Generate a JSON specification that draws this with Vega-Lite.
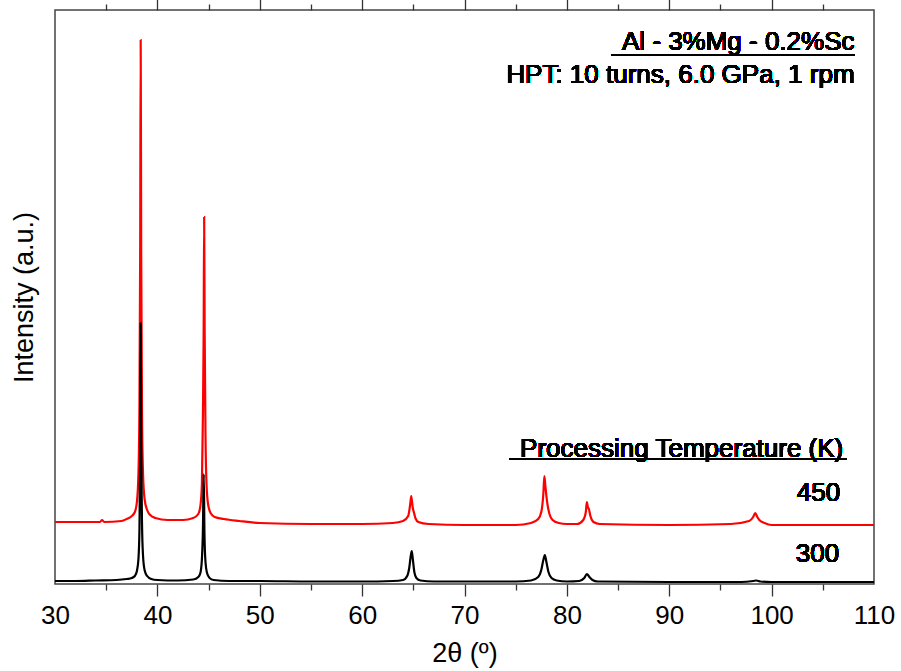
{
  "$schema": "https://vega.github.io/schema/vega-lite/v6.json",
  "width": 819,
  "height": 574,
  "autosize": {"type": "none"},
  "padding": {"left": 55, "top": 10, "right": 27, "bottom": 87},
  "background": "white",
  "config": {
    "font": "Liberation Sans",
    "view": {"stroke": "#444", "strokeWidth": 1.5},
    "axis": {"labelFont": "Liberation Sans", "titleFont": "Liberation Sans", "labelColor": "#000", "titleColor": "#000", "titleFontWeight": "normal", "grid": false}
  },
  "data": {"values": [
    {"t": 30, "i": 62, "s": "450"}, {"t": 33, "i": 62, "s": "450"}, {"t": 34.4, "i": 62, "s": "450"}, {"t": 34.6, "i": 64, "s": "450"}, {"t": 34.8, "i": 62, "s": "450"}, {"t": 36.5, "i": 63, "s": "450"}, {"t": 37.0, "i": 65, "s": "450"}, {"t": 37.5, "i": 68, "s": "450"}, {"t": 37.8, "i": 72, "s": "450"}, {"t": 38.0, "i": 82, "s": "450"}, {"t": 38.15, "i": 110, "s": "450"}, {"t": 38.25, "i": 180, "s": "450"}, {"t": 38.32, "i": 330, "s": "450"}, {"t": 38.37, "i": 544, "s": "450"}, {"t": 38.42, "i": 330, "s": "450"}, {"t": 38.5, "i": 170, "s": "450"}, {"t": 38.6, "i": 110, "s": "450"}, {"t": 38.75, "i": 85, "s": "450"}, {"t": 39.0, "i": 74, "s": "450"}, {"t": 39.3, "i": 69, "s": "450"}, {"t": 39.8, "i": 66, "s": "450"}, {"t": 41, "i": 64, "s": "450"}, {"t": 42.5, "i": 64, "s": "450"}, {"t": 43.5, "i": 66, "s": "450"}, {"t": 44.0, "i": 70, "s": "450"}, {"t": 44.2, "i": 78, "s": "450"}, {"t": 44.35, "i": 100, "s": "450"}, {"t": 44.45, "i": 170, "s": "450"}, {"t": 44.52, "i": 250, "s": "450"}, {"t": 44.57, "i": 367, "s": "450"}, {"t": 44.62, "i": 250, "s": "450"}, {"t": 44.7, "i": 150, "s": "450"}, {"t": 44.8, "i": 100, "s": "450"}, {"t": 44.95, "i": 80, "s": "450"}, {"t": 45.2, "i": 71, "s": "450"}, {"t": 45.6, "i": 67, "s": "450"}, {"t": 46.5, "i": 65, "s": "450"}, {"t": 48, "i": 63, "s": "450"}, {"t": 50, "i": 61, "s": "450"}, {"t": 55, "i": 60, "s": "450"}, {"t": 60, "i": 60, "s": "450"}, {"t": 63, "i": 61, "s": "450"}, {"t": 64.0, "i": 63, "s": "450"}, {"t": 64.5, "i": 68, "s": "450"}, {"t": 64.7, "i": 80, "s": "450"}, {"t": 64.8, "i": 88, "s": "450"}, {"t": 64.9, "i": 80, "s": "450"}, {"t": 64.97, "i": 75, "s": "450"}, {"t": 65.05, "i": 72, "s": "450"}, {"t": 65.2, "i": 66, "s": "450"}, {"t": 65.5, "i": 62, "s": "450"}, {"t": 66.5, "i": 60, "s": "450"}, {"t": 70, "i": 59, "s": "450"}, {"t": 75, "i": 59, "s": "450"}, {"t": 76.5, "i": 61, "s": "450"}, {"t": 77.2, "i": 65, "s": "450"}, {"t": 77.5, "i": 72, "s": "450"}, {"t": 77.7, "i": 90, "s": "450"}, {"t": 77.8, "i": 108, "s": "450"}, {"t": 77.9, "i": 98, "s": "450"}, {"t": 78.0, "i": 88, "s": "450"}, {"t": 78.1, "i": 80, "s": "450"}, {"t": 78.3, "i": 70, "s": "450"}, {"t": 78.6, "i": 64, "s": "450"}, {"t": 79.2, "i": 61, "s": "450"}, {"t": 80, "i": 60, "s": "450"}, {"t": 81.0, "i": 60, "s": "450"}, {"t": 81.6, "i": 64, "s": "450"}, {"t": 81.85, "i": 72, "s": "450"}, {"t": 81.95, "i": 82, "s": "450"}, {"t": 82.05, "i": 77, "s": "450"}, {"t": 82.15, "i": 75, "s": "450"}, {"t": 82.3, "i": 68, "s": "450"}, {"t": 82.6, "i": 62, "s": "450"}, {"t": 83.2, "i": 60, "s": "450"}, {"t": 90, "i": 59, "s": "450"}, {"t": 96, "i": 60, "s": "450"}, {"t": 97.8, "i": 63, "s": "450"}, {"t": 98.2, "i": 67, "s": "450"}, {"t": 98.4, "i": 71, "s": "450"}, {"t": 98.6, "i": 67, "s": "450"}, {"t": 98.8, "i": 64, "s": "450"}, {"t": 99.3, "i": 61, "s": "450"}, {"t": 100, "i": 59, "s": "450"}, {"t": 110, "i": 59, "s": "450"},
    {"t": 30, "i": 3, "s": "300"}, {"t": 32, "i": 3, "s": "300"}, {"t": 34, "i": 3.5, "s": "300"}, {"t": 36, "i": 4, "s": "300"}, {"t": 37, "i": 5, "s": "300"}, {"t": 37.5, "i": 6, "s": "300"}, {"t": 37.8, "i": 8, "s": "300"}, {"t": 38.0, "i": 13, "s": "300"}, {"t": 38.15, "i": 25, "s": "300"}, {"t": 38.25, "i": 55, "s": "300"}, {"t": 38.32, "i": 130, "s": "300"}, {"t": 38.37, "i": 261, "s": "300"}, {"t": 38.42, "i": 140, "s": "300"}, {"t": 38.5, "i": 60, "s": "300"}, {"t": 38.6, "i": 28, "s": "300"}, {"t": 38.75, "i": 14, "s": "300"}, {"t": 39.0, "i": 8, "s": "300"}, {"t": 39.4, "i": 5, "s": "300"}, {"t": 40, "i": 4, "s": "300"}, {"t": 42, "i": 3.5, "s": "300"}, {"t": 43.5, "i": 4.5, "s": "300"}, {"t": 44.0, "i": 7, "s": "300"}, {"t": 44.2, "i": 11, "s": "300"}, {"t": 44.35, "i": 25, "s": "300"}, {"t": 44.45, "i": 55, "s": "300"}, {"t": 44.53, "i": 110, "s": "300"}, {"t": 44.6, "i": 50, "s": "300"}, {"t": 44.7, "i": 22, "s": "300"}, {"t": 44.85, "i": 11, "s": "300"}, {"t": 45.1, "i": 6, "s": "300"}, {"t": 45.5, "i": 4, "s": "300"}, {"t": 47, "i": 3, "s": "300"}, {"t": 50, "i": 3, "s": "300"}, {"t": 55, "i": 2.5, "s": "300"}, {"t": 60, "i": 2.5, "s": "300"}, {"t": 63, "i": 3, "s": "300"}, {"t": 64.0, "i": 4, "s": "300"}, {"t": 64.4, "i": 8, "s": "300"}, {"t": 64.6, "i": 16, "s": "300"}, {"t": 64.75, "i": 28, "s": "300"}, {"t": 64.85, "i": 33, "s": "300"}, {"t": 64.95, "i": 25, "s": "300"}, {"t": 65.1, "i": 12, "s": "300"}, {"t": 65.3, "i": 6, "s": "300"}, {"t": 65.7, "i": 3.5, "s": "300"}, {"t": 67, "i": 2.5, "s": "300"}, {"t": 70, "i": 2.5, "s": "300"}, {"t": 75, "i": 2.5, "s": "300"}, {"t": 76.5, "i": 3.5, "s": "300"}, {"t": 77.2, "i": 7, "s": "300"}, {"t": 77.5, "i": 14, "s": "300"}, {"t": 77.7, "i": 24, "s": "300"}, {"t": 77.85, "i": 29, "s": "300"}, {"t": 78.0, "i": 22, "s": "300"}, {"t": 78.2, "i": 12, "s": "300"}, {"t": 78.5, "i": 6, "s": "300"}, {"t": 79, "i": 3.5, "s": "300"}, {"t": 80, "i": 2.5, "s": "300"}, {"t": 81.2, "i": 3, "s": "300"}, {"t": 81.7, "i": 6, "s": "300"}, {"t": 81.95, "i": 10, "s": "300"}, {"t": 82.2, "i": 7, "s": "300"}, {"t": 82.5, "i": 4, "s": "300"}, {"t": 83, "i": 2.5, "s": "300"}, {"t": 90, "i": 2, "s": "300"}, {"t": 97, "i": 2, "s": "300"}, {"t": 98.2, "i": 3, "s": "300"}, {"t": 98.5, "i": 3.5, "s": "300"}, {"t": 98.9, "i": 2.5, "s": "300"}, {"t": 100, "i": 2, "s": "300"}, {"t": 110, "i": 2, "s": "300"}
  ]},
  "resolve": {"scale": {"x": "independent"}, "axis": {"x": "independent", "y": "independent"}},
  "layer": [
    {
      "mark": {"type": "line", "strokeWidth": 2.2, "interpolate": "monotone"},
      "encoding": {
        "x": {"field": "t", "type": "quantitative", "scale": {"domain": [30, 110], "nice": false, "zero": false},
          "axis": {"orient": "bottom", "values": [30, 40, 50, 60, 70, 80, 90, 100, 110], "ticks": false, "domain": false, "labelFontSize": 26, "labelPadding": 18, "labelFlush": false, "title": "2θ (º)", "titleFontSize": 27, "titlePadding": 12}},
        "y": {"field": "i", "type": "quantitative", "scale": {"domain": [0, 574], "nice": false, "zero": false},
          "axis": {"orient": "left", "title": "Intensity (a.u.)", "titleFontSize": 27, "labels": false, "ticks": false, "domain": false, "titlePadding": 17}},
        "color": {"field": "s", "type": "nominal", "scale": {"domain": ["450", "300"], "range": ["#ff0000", "#000000"]}, "legend": null},
        "order": {"field": "t", "type": "quantitative"}
      }
    },
    {
      "mark": {"type": "line", "opacity": 0},
      "encoding": {
        "x": {"field": "t", "type": "quantitative", "scale": {"domain": [30, 110], "nice": false, "zero": false}, "axis": {"orient": "bottom", "values": [40, 50, 60, 70, 80, 90, 100], "labels": false, "domain": false, "tickColor": "#333", "tickWidth": 1.3, "tickSize": 12, "title": null, "encode": {"ticks": {"update": {"y2": {"value": -12}}}}}},
        "y": {"field": "i", "type": "quantitative", "axis": null}
      }
    },
    {
      "mark": {"type": "line", "opacity": 0},
      "encoding": {
        "x": {"field": "t", "type": "quantitative", "scale": {"domain": [30, 110], "nice": false, "zero": false}, "axis": {"orient": "bottom", "values": [35, 45, 55, 65, 75, 85, 95, 105], "labels": false, "domain": false, "tickColor": "#333", "tickWidth": 1.3, "tickSize": 6, "title": null, "encode": {"ticks": {"update": {"y2": {"value": -6}}}}}},
        "y": {"field": "i", "type": "quantitative", "axis": null}
      }
    },
    {
      "mark": {"type": "line", "opacity": 0},
      "encoding": {
        "x": {"field": "t", "type": "quantitative", "scale": {"domain": [30, 110], "nice": false, "zero": false}, "axis": {"orient": "top", "values": [40, 50, 60, 70, 80, 90, 100], "labels": false, "domain": false, "tickColor": "#333", "tickWidth": 1.3, "tickSize": 12, "title": null, "encode": {"ticks": {"update": {"y2": {"value": 12}}}}}},
        "y": {"field": "i", "type": "quantitative", "axis": null}
      }
    },
    {
      "mark": {"type": "line", "opacity": 0},
      "encoding": {
        "x": {"field": "t", "type": "quantitative", "scale": {"domain": [30, 110], "nice": false, "zero": false}, "axis": {"orient": "top", "values": [35, 45, 55, 65, 75, 85, 95, 105], "labels": false, "domain": false, "tickColor": "#333", "tickWidth": 1.3, "tickSize": 6, "title": null, "encode": {"ticks": {"update": {"y2": {"value": 6}}}}}},
        "y": {"field": "i", "type": "quantitative", "axis": null}
      }
    },
    {
      "mark": {"type": "text", "align": "right", "baseline": "alphabetic", "fontSize": 26, "font": "Liberation Sans", "color": "#000"},
      "encoding": {"x": {"datum": 108.1, "type": "quantitative", "scale": {"domain": [30, 110], "nice": false, "zero": false}, "axis": null}, "y": {"datum": 534, "type": "quantitative", "axis": null}, "text": {"value": "Al - 3%Mg - 0.2%Sc"}}
    },
    {
      "mark": {"type": "text", "align": "right", "baseline": "alphabetic", "fontSize": 26, "font": "Liberation Sans", "color": "#000"},
      "encoding": {"x": {"datum": 108.1, "type": "quantitative", "scale": {"domain": [30, 110], "nice": false, "zero": false}, "axis": null}, "y": {"datum": 501, "type": "quantitative", "axis": null}, "text": {"value": "HPT: 10 turns, 6.0 GPa, 1 rpm"}}
    },
    {
      "mark": {"type": "text", "align": "right", "baseline": "alphabetic", "fontSize": 26, "font": "Liberation Sans", "color": "#000"},
      "encoding": {"x": {"datum": 107.0, "type": "quantitative", "scale": {"domain": [30, 110], "nice": false, "zero": false}, "axis": null}, "y": {"datum": 127, "type": "quantitative", "axis": null}, "text": {"value": "Processing Temperature (K)"}}
    },
    {
      "mark": {"type": "text", "align": "right", "baseline": "alphabetic", "fontSize": 26, "font": "Liberation Sans", "color": "#000"},
      "encoding": {"x": {"datum": 106.7, "type": "quantitative", "scale": {"domain": [30, 110], "nice": false, "zero": false}, "axis": null}, "y": {"datum": 83, "type": "quantitative", "axis": null}, "text": {"value": "450"}}
    },
    {
      "mark": {"type": "text", "align": "right", "baseline": "alphabetic", "fontSize": 26, "font": "Liberation Sans", "color": "#000"},
      "encoding": {"x": {"datum": 106.6, "type": "quantitative", "scale": {"domain": [30, 110], "nice": false, "zero": false}, "axis": null}, "y": {"datum": 22, "type": "quantitative", "axis": null}, "text": {"value": "300"}}
    },
    {
      "mark": {"type": "rule", "color": "#000", "strokeWidth": 1.5},
      "encoding": {"x": {"datum": 84.4, "type": "quantitative", "scale": {"domain": [30, 110], "nice": false, "zero": false}, "axis": null}, "x2": {"datum": 108.1}, "y": {"datum": 529, "type": "quantitative", "axis": null}}
    },
    {
      "mark": {"type": "rule", "color": "#000", "strokeWidth": 1.5},
      "encoding": {"x": {"datum": 74.4, "type": "quantitative", "scale": {"domain": [30, 110], "nice": false, "zero": false}, "axis": null}, "x2": {"datum": 107.3}, "y": {"datum": 125, "type": "quantitative", "axis": null}}
    }
  ]
}
